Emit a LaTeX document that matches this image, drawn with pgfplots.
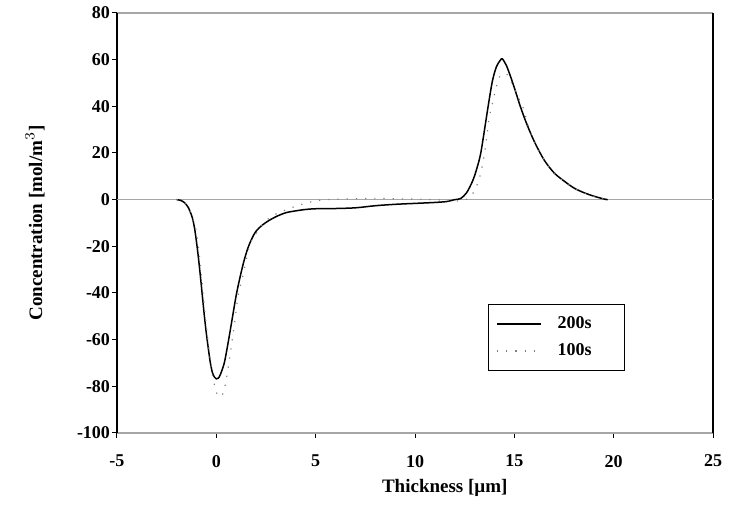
\documentclass[border=0pt]{standalone}
\usepackage{fontspec}
\setmainfont{Liberation Serif}
\usepackage{pgfplots}
\pgfplotsset{compat=1.18}
\pgfplotstableread{
x y
-2.0 0
-1.8 -0.3
-1.6 -1.3
-1.4 -3.5
-1.3 -5.5
-1.2 -8
-1.1 -12
-1.0 -18
-0.9 -25
-0.8 -33
-0.7 -41.5
-0.6 -50
-0.5 -57.5
-0.4 -64
-0.3 -70
-0.2 -74
-0.1 -76
0.0 -76.8
0.1 -76.5
0.2 -75
0.4 -70
0.6 -61
0.8 -51
1.0 -41
1.2 -33
1.4 -26
1.6 -20.5
1.8 -16.5
2.0 -13.5
2.3 -11
2.6 -9.2
3.0 -7.3
3.5 -5.6
4.0 -4.8
4.5 -4.2
5.0 -3.9
6.0 -3.8
7.0 -3.5
8.0 -2.6
9.0 -2.0
10.0 -1.6
11.0 -1.2
11.6 -0.8
12.0 0
12.3 0.5
12.6 3
12.9 8
13.1 13
13.3 19.5
13.5 30
13.7 41
13.9 51
14.1 57
14.3 59.8
14.4 60.3
14.6 57.5
14.8 53
15.0 48
15.3 40
15.6 33
16.0 25
16.5 17
17.0 11.5
17.5 8
18.0 5
18.5 3
19.0 1.5
19.5 0.3
19.7 0
}\solid
\pgfplotstableread{
x y
-2.0 0
-1.8 -0.5
-1.6 -1.5
-1.4 -3.5
-1.2 -7.5
-1.0 -14
-0.8 -28
-0.6 -46
-0.4 -62
-0.2 -75
0.0 -82.5
0.15 -84.5
0.35 -83
0.5 -77
0.7 -66
0.9 -54
1.1 -41
1.3 -34
1.5 -26
1.7 -19
2.0 -14.5
2.4 -10
2.8 -7
3.2 -5.5
3.6 -4
4.0 -2.8
4.5 -1.5
5.0 -0.5
5.5 0
6.5 0.3
8.0 0.5
9.5 0.3
11.0 0
12.0 -0.5
12.5 -0.3
12.9 2.5
13.2 8
13.4 15
13.55 22.9
13.7 33
13.8 38
13.95 43
14.05 47
14.25 52.5
14.45 54
14.65 53.5
14.95 48.6
15.3 42
15.5 38
15.8 29
16.5 17
17.2 10
18.0 5
18.8 2
19.6 0
}\dotted
\begin{document}
\begin{tikzpicture}[x=1pt,y=1pt]
\useasboundingbox (-58.5,-36.5) rectangle (311,216.5);
\begin{axis}[
  at={(0,0)}, anchor=south west,
  scale only axis, width=298pt, height=210pt,
  xmin=-5, xmax=25, ymin=-100, ymax=80,
  xtick={-5,0,...,25}, ytick={-100,-80,...,80},
  separate axis lines,
  x axis line style={gray!70, line width=0.6pt},
  y axis line style={black, line width=0.6pt},
  xtick pos=bottom, ytick pos=left,
  tick align=outside, major tick length=2.5pt,
  tick style={black, line width=0.5pt},
  /pgf/number format/assume math mode=true,
  ticklabel style={font=\fontsize{9}{10}\selectfont\bfseries},
  xticklabel style={yshift=-5pt},
  yticklabel style={inner sep=0.8pt},
  xlabel={Thickness [µm]},
  ylabel={Concentration [mol/m$^{3}$]},
  every axis x label/.style={at={(axis description cs:0.55,-0.131)}, anchor=center, font=\fontsize{9.5}{11}\selectfont\bfseries},
  every axis y label/.style={at={(axis description cs:-0.1376,0.5)}, rotate=90, anchor=center, font=\fontsize{9.5}{11}\selectfont\bfseries},
  legend style={at={(axis description cs:0.622,0.307)}, anchor=north west, draw=black, line width=0.5pt,
    font=\fontsize{9}{10}\selectfont\bfseries, inner xsep=4pt, inner ysep=4pt, row sep=2pt,
    cells={anchor=west},
    /tikz/every odd column/.append style={column sep=6pt}},
  legend image code/.code={\draw[#1] (0pt,0pt) -- (22pt,0pt);},
]
\addplot[gray!70, line width=0.5pt, forget plot] coordinates {(-5,0) (25,0)};
\addplot[black, line width=0.75pt, smooth] table[x=x,y=y] {\solid};
\addlegendentry{\makebox[27.5pt][l]{200s}}
\addplot[gray, line width=0.6pt, dash pattern=on 0.6pt off 4pt, smooth] table[x=x,y=y] {\dotted};
\addlegendentry{\makebox[27.5pt][l]{100s}}
\end{axis}
\end{tikzpicture}
\end{document}
